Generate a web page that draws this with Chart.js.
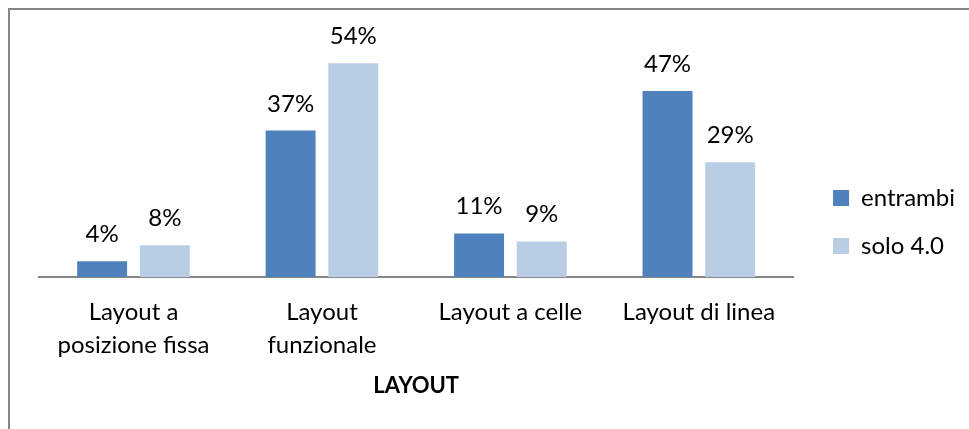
<!DOCTYPE html>
<html>
<head>
<meta charset="utf-8">
<script src="https://cdn.jsdelivr.net/npm/chart.js@4/dist/chart.umd.min.js"></script>
<style>
  html, body { margin: 0; padding: 0; background: #ffffff; }
  #wrap { position: relative; width: 969px; height: 429px; }
</style>
</head>
<body>
<div id="wrap"><canvas id="chart" width="969" height="429"></canvas></div>
<script>
// Categories and series (percent values)
const categories = [
  ['Layout a', 'posizione fissa'],
  ['Layout', 'funzionale'],
  'Layout a celle',
  'Layout di linea'
];
const seriesNames = ['entrambi', 'solo 4.0'];
const entrambi = [4, 37, 11, 47];
const solo40 = [8, 54, 9, 29];
const axisTitle = 'LAYOUT';

const FONT = 'Lato, "Open Sans", "DejaVu Sans", sans-serif';
const TEXT = '#000000';
const AXIS_GRAY = '#868686';

// Outer chart frame (left and top edges visible)
const framePlugin = {
  id: 'frame',
  beforeDraw(chart) {
    const ctx = chart.ctx;
    ctx.save();
    ctx.fillStyle = '#ffffff';
    ctx.fillRect(0, 0, chart.width, chart.height);
    ctx.strokeStyle = AXIS_GRAY;
    ctx.lineWidth = 2;
    ctx.beginPath();
    ctx.moveTo(9, chart.height + 2);
    ctx.lineTo(9, 9);
    ctx.lineTo(chart.width + 2, 9);
    ctx.stroke();
    ctx.restore();
  }
};

// Value labels above each bar
const valueLabels = {
  id: 'valueLabels',
  afterDatasetsDraw(chart) {
    const ctx = chart.ctx;
    ctx.save();
    ctx.font = '24px ' + FONT;
    ctx.fillStyle = TEXT;
    ctx.textAlign = 'center';
    ctx.textBaseline = 'alphabetic';
    chart.data.datasets.forEach((ds, di) => {
      const meta = chart.getDatasetMeta(di);
      meta.data.forEach((bar, i) => {
        ctx.fillText(ds.data[i] + '%', bar.x, bar.y - 19);
      });
    });
    ctx.restore();
  }
};

new Chart(document.getElementById('chart'), {
  type: 'bar',
  data: {
    labels: categories,
    datasets: [
      {
        label: seriesNames[0],
        data: entrambi,
        backgroundColor: '#4F81BD',
        borderWidth: 0
      },
      {
        label: seriesNames[1],
        data: solo40,
        backgroundColor: '#B9CDE5',
        borderWidth: 0
      }
    ]
  },
  options: {
    responsive: false,
    animation: false,
    devicePixelRatio: 1,
    layout: { padding: { left: 39.25, top: 39.5, right: 4, bottom: 24.5 } },
    datasets: {
      bar: { categoryPercentage: 0.665, barPercentage: 0.797 }
    },
    plugins: {
      legend: {
        position: 'right',
        align: 'center',
        labels: {
          boxWidth: 16,
          boxHeight: 16,
          padding: 24,
          color: TEXT,
          font: { family: FONT, size: 24 }
        }
      },
      tooltip: { enabled: false },
      title: { display: false }
    },
    scales: {
      x: {
        grid: { display: false, drawTicks: false },
        border: { display: true, color: AXIS_GRAY, width: 2 },
        ticks: {
          color: TEXT,
          padding: 19,
          maxRotation: 0,
          autoSkip: false,
          font: { family: FONT, size: 24, lineHeight: 1.375 }
        },
        title: {
          display: true,
          text: axisTitle,
          color: TEXT,
          font: { family: FONT, size: 22, weight: 'bold' },
          padding: { top: 0, bottom: 5 }
        },
        afterFit(scale) { scale.height = 127.5; }
      },
      y: {
        position: 'right',
        min: 0,
        max: 60,
        grid: { display: false, drawTicks: false },
        border: { display: false },
        ticks: { display: false },
        afterFit(scale) { scale.width = 16; }
      }
    }
  },
  plugins: [framePlugin, valueLabels]
});
</script>
</body>
</html>
